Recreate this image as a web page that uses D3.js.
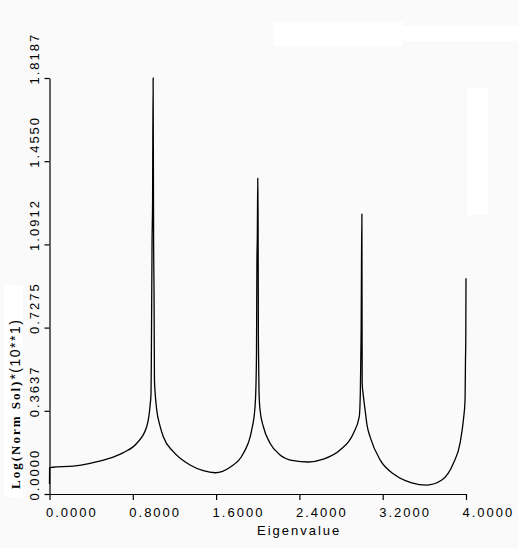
<!DOCTYPE html>
<head>
    <meta charset="utf-8">
    <title>Eigenvalue spectrum</title>
    <style>
        body { margin: 0; background: #fafafa; }
        svg { display: block; }
        .tick text, .xlabel { font-family: "Liberation Sans", Arial, sans-serif; font-size: 13px; letter-spacing: 2px; fill: #000; }
    </style>
</head>
<body>

<svg width="518" height="548"></svg>

<script src="https://cdnjs.cloudflare.com/ajax/libs/d3/7.8.5/d3.min.js"></script>

<script>

// values
var eigenvalue = [0, 0.001, 0.03, 0.229, 0.389, 0.549, 0.709, 0.838, 0.934, 0.965, 0.975, 0.978, 0.985, 0.990, 0.995,
    1.000, 1.004, 1.008, 1.015, 1.030, 1.060, 1.093, 1.189, 1.350, 1.477, 1.590, 1.734, 1.862, 1.942, 1.974, 1.984,
    1.988, 1.992, 1.996, 2.000, 2.003, 2.006, 2.009, 2.012, 2.022, 2.054, 2.118, 2.214, 2.342, 2.486, 2.630, 2.790,
    2.918, 2.975, 2.985, 2.990, 2.993, 2.996, 3.000, 3.003, 3.014, 3.031, 3.050, 3.079, 3.175, 3.319, 3.479, 3.623,
    3.768, 3.879, 3.943, 3.975, 3.991, 3.995, 3.998, 4.000];
var normSol = [0.044, 0.115, 0.117, 0.122, 0.134, 0.152, 0.181, 0.222, 0.295, 0.382, 0.44, 0.578, 1.111, 1.279, 1.8187,
    1.076, 0.885, 0.50, 0.44, 0.367, 0.30, 0.25, 0.185, 0.127, 0.102, 0.093, 0.117, 0.178, 0.28, 0.382, 0.498,
    0.622, 1.009, 1.133, 1.380, 1.234, 0.695, 0.564, 0.45, 0.367, 0.294, 0.222, 0.171, 0.146, 0.140, 0.152, 0.192,
    0.265, 0.338, 0.44, 0.608, 0.717, 0.98, 1.224, 0.484, 0.43, 0.367, 0.30, 0.25, 0.149, 0.083, 0.049, 0.039,
    0.061, 0.134, 0.222, 0.324, 0.411, 0.586, 0.673, 0.943];

var xTicks = [0, 0.8, 1.6, 2.4, 3.2, 4.0];
var yTicks = [0, 0.3637, 0.7275, 1.0912, 1.4550, 1.8187];

var svg = d3.select('svg');

// white patches left over in the original
var patches = [[274, 22, 129, 24], [403, 26, 115, 15], [467, 88, 21, 127], [4, 285, 19, 212]];
svg.selectAll('rect.patch')
    .data(patches)
    .enter().append('rect')
        .attr('class', 'patch')
        .attr('x', d => d[0]).attr('y', d => d[1])
        .attr('width', d => d[2]).attr('height', d => d[3])
        .attr('fill', '#fff');

var x = d3.scaleLinear().domain([0, 4]).range([49.5, 466]);
var y = d3.scaleLinear().domain([0, 1.8187]).range([494, 78]);

var fmt = d3.format('.4f');

// x axis, labels start just left of each tick
var xAxis = svg.append('g')
    .attr('transform', 'translate(0,494)')
    .call(d3.axisBottom(x).tickValues(xTicks).tickSize(6).tickSizeOuter(0).tickFormat(fmt));
xAxis.selectAll('.tick text')
    .attr('text-anchor', 'start')
    .attr('x', -4)
    .attr('y', 23)
    .attr('dy', null);

// y axis, labels run upward
var yAxis = svg.append('g')
    .attr('transform', 'translate(49.5,0)')
    .call(d3.axisLeft(y).tickValues(yTicks).tickSize(5).tickSizeOuter(0).tickFormat(fmt));
yAxis.selectAll('.tick text')
    .attr('transform', 'rotate(-90)')
    .attr('text-anchor', 'start')
    .attr('x', -6)
    .attr('y', -11)
    .attr('dy', null);

svg.selectAll('.domain, .tick line').attr('stroke', '#000').attr('stroke-width', 1.2);

svg.append('text')
    .attr('class', 'xlabel')
    .attr('x', 257)
    .attr('y', 535)
    .text('Eigenvalue');

// y title: bold serif part then plain part
var ytitle = svg.append('text')
    .attr('transform', 'translate(20,489) rotate(-90)')
    .attr('text-anchor', 'start');
ytitle.append('tspan')
    .style('font-family', '"Liberation Serif", serif')
    .style('font-weight', 'bold')
    .style('font-size', '13px')
    .style('letter-spacing', '2px')
    .text('Log(Norm Sol)');
ytitle.append('tspan')
    .style('font-family', '"Liberation Sans", sans-serif')
    .style('font-size', '14px')
    .style('letter-spacing', '1.5px')
    .text('*(10**1)');

var line = d3.line()
    .x(d => x(d[0]))
    .y(d => y(d[1]))
    .curve(d3.curveMonotoneX);

svg.append('path')
    .datum(d3.zip(eigenvalue, normSol))
    .attr('fill', 'none')
    .attr('stroke', '#000')
    .attr('stroke-width', 1.3)
    .attr('d', line);

</script>

</body>
